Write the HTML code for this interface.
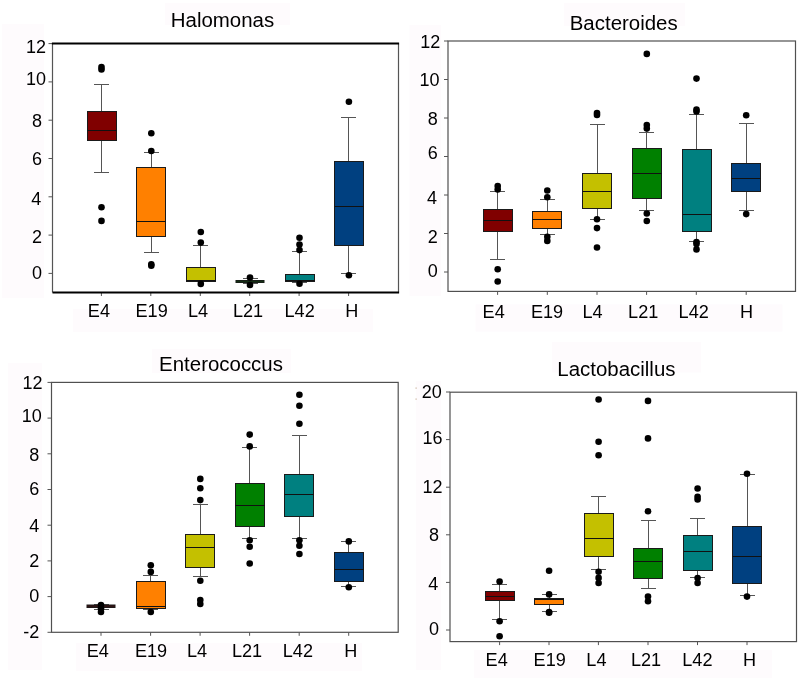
<!DOCTYPE html>
<html><head><meta charset="utf-8"><style>
html,body{margin:0;padding:0;background:#fff;}
body{width:800px;height:678px;overflow:hidden;}
svg{display:block;font-family:"Liberation Sans",sans-serif;will-change:transform;}
</style></head><body>
<svg width="800" height="678" viewBox="0 0 800 678" fill="#000">
<rect x="2" y="24" width="42" height="274" fill="#fefbfd"/>
<rect x="165" y="3" width="125" height="22" fill="#fefbfd"/>
<rect x="73" y="309" width="300" height="23" fill="#fefbfd"/>
<rect x="409.5" y="25" width="31.5" height="271" fill="#fefbfd"/>
<rect x="564" y="3" width="121" height="23" fill="#fefbfd"/>
<rect x="475.6" y="304.4" width="306.9" height="27.200000000000045" fill="#fefbfd"/>
<rect x="8" y="363" width="34" height="307" fill="#fefbfd"/>
<rect x="152" y="349" width="139" height="24" fill="#fefbfd"/>
<rect x="76" y="643" width="286" height="28" fill="#fefbfd"/>
<rect x="416" y="381" width="25" height="289" fill="#fefbfd"/>
<rect x="552" y="342" width="149" height="30.5" fill="#fefbfd"/>
<rect x="474" y="650" width="298" height="28" fill="#fefbfd"/>
<rect x="415.5" y="387.5" width="1.2" height="1.2" fill="#c9b39c"/>
<rect x="415.5" y="398.5" width="1.2" height="1.2" fill="#c9b39c"/>
<line x1="52.5" y1="43.5" x2="52.5" y2="292.5" stroke="#555555" stroke-width="1.2"/>
<line x1="398.5" y1="43.5" x2="398.5" y2="292.5" stroke="#555555" stroke-width="1.2"/>
<text transform="translate(222.50,27.20) scale(1.022,1)" text-anchor="middle" font-size="20">Halomonas</text>
<line x1="48.5" y1="273.40" x2="52.5" y2="273.40" stroke="#555555" stroke-width="1"/>
<text x="42.01" y="278.98" text-anchor="end" font-size="18">0</text>
<line x1="48.5" y1="235.10" x2="52.5" y2="235.10" stroke="#555555" stroke-width="1"/>
<text x="42.01" y="243.44" text-anchor="end" font-size="18">2</text>
<line x1="48.5" y1="196.80" x2="52.5" y2="196.80" stroke="#555555" stroke-width="1"/>
<text x="41.31" y="205.37" text-anchor="end" font-size="18">4</text>
<line x1="48.5" y1="158.50" x2="52.5" y2="158.50" stroke="#555555" stroke-width="1"/>
<text x="42.01" y="165.29" text-anchor="end" font-size="18">6</text>
<line x1="48.5" y1="120.20" x2="52.5" y2="120.20" stroke="#555555" stroke-width="1"/>
<text x="42.01" y="127.21" text-anchor="end" font-size="18">8</text>
<line x1="48.5" y1="81.90" x2="52.5" y2="81.90" stroke="#555555" stroke-width="1"/>
<text x="46.01" y="85.06" text-anchor="end" font-size="18">10</text>
<line x1="48.5" y1="43.60" x2="52.5" y2="43.60" stroke="#555555" stroke-width="1"/>
<text x="46.01" y="52.75" text-anchor="end" font-size="18">12</text>
<line x1="101.4" y1="292.5" x2="101.4" y2="296.0" stroke="#555555" stroke-width="1"/>
<text transform="translate(98.90,317.00) scale(1.035,1)" text-anchor="middle" font-size="17.5">E4</text>
<line x1="150.8" y1="292.5" x2="150.8" y2="296.0" stroke="#555555" stroke-width="1"/>
<text transform="translate(151.60,317.00) scale(1.035,1)" text-anchor="middle" font-size="17.5">E19</text>
<line x1="200.3" y1="292.5" x2="200.3" y2="296.0" stroke="#555555" stroke-width="1"/>
<text transform="translate(198.00,317.00) scale(1.035,1)" text-anchor="middle" font-size="17.5">L4</text>
<line x1="249.7" y1="292.5" x2="249.7" y2="296.0" stroke="#555555" stroke-width="1"/>
<text transform="translate(248.00,317.00) scale(1.035,1)" text-anchor="middle" font-size="17.5">L21</text>
<line x1="299.1" y1="292.5" x2="299.1" y2="296.0" stroke="#555555" stroke-width="1"/>
<text transform="translate(299.60,317.00) scale(1.035,1)" text-anchor="middle" font-size="17.5">L42</text>
<line x1="348.6" y1="292.5" x2="348.6" y2="296.0" stroke="#555555" stroke-width="1"/>
<text transform="translate(351.90,317.00) scale(1.035,1)" text-anchor="middle" font-size="17.5">H</text>
<line x1="101.5" y1="84.5" x2="101.5" y2="111.5" stroke="#555555" stroke-width="1"/>
<line x1="101.5" y1="140.5" x2="101.5" y2="172.5" stroke="#555555" stroke-width="1"/>
<line x1="94.0" y1="84.5" x2="109.0" y2="84.5" stroke="#555555" stroke-width="1"/>
<line x1="94.0" y1="172.5" x2="109.0" y2="172.5" stroke="#555555" stroke-width="1"/>
<rect x="87.5" y="111.5" width="29.0" height="29.0" fill="#800000" stroke="#1a1a1a" stroke-width="1"/>
<line x1="87.5" y1="130.5" x2="116.5" y2="130.5" stroke="#111" stroke-width="1"/>
<circle cx="101.5" cy="67" r="3.3" fill="#000"/>
<circle cx="101.5" cy="69.5" r="3.3" fill="#000"/>
<circle cx="101.5" cy="207.3" r="3.3" fill="#000"/>
<circle cx="101.5" cy="220.9" r="3.3" fill="#000"/>
<line x1="151.5" y1="152.5" x2="151.5" y2="167.5" stroke="#555555" stroke-width="1"/>
<line x1="151.5" y1="236.5" x2="151.5" y2="252.5" stroke="#555555" stroke-width="1"/>
<line x1="144.0" y1="152.5" x2="159.0" y2="152.5" stroke="#555555" stroke-width="1"/>
<line x1="144.0" y1="252.5" x2="159.0" y2="252.5" stroke="#555555" stroke-width="1"/>
<rect x="136.5" y="167.5" width="29.0" height="69.0" fill="#ff8000" stroke="#1a1a1a" stroke-width="1"/>
<line x1="136.5" y1="221.5" x2="165.5" y2="221.5" stroke="#111" stroke-width="1"/>
<circle cx="151.3" cy="133.2" r="3.3" fill="#000"/>
<circle cx="151.3" cy="151" r="3.3" fill="#000"/>
<circle cx="151.3" cy="264.2" r="3.3" fill="#000"/>
<circle cx="151.3" cy="265.8" r="3.3" fill="#000"/>
<line x1="200.5" y1="245.5" x2="200.5" y2="267.5" stroke="#555555" stroke-width="1"/>
<line x1="200.5" y1="281.5" x2="200.5" y2="281.5" stroke="#555555" stroke-width="1"/>
<line x1="193.0" y1="245.5" x2="208.0" y2="245.5" stroke="#555555" stroke-width="1"/>
<line x1="193.0" y1="281.5" x2="208.0" y2="281.5" stroke="#555555" stroke-width="1"/>
<rect x="186.5" y="267.5" width="29.0" height="14.0" fill="#c4c000" stroke="#1a1a1a" stroke-width="1"/>
<line x1="186.5" y1="280.5" x2="215.5" y2="280.5" stroke="#111" stroke-width="1"/>
<circle cx="200.8" cy="232" r="3.3" fill="#000"/>
<circle cx="200.8" cy="242.6" r="3.3" fill="#000"/>
<circle cx="200.8" cy="283.9" r="3.3" fill="#000"/>
<line x1="250.5" y1="278.5" x2="250.5" y2="280.5" stroke="#555555" stroke-width="1"/>
<line x1="250.5" y1="282.5" x2="250.5" y2="283.5" stroke="#555555" stroke-width="1"/>
<line x1="243.0" y1="278.5" x2="258.0" y2="278.5" stroke="#555555" stroke-width="1"/>
<line x1="243.0" y1="283.5" x2="258.0" y2="283.5" stroke="#555555" stroke-width="1"/>
<rect x="235.5" y="280.00" width="29.0" height="3.00" fill="#1a1a1a"/>
<rect x="236.0" y="280.70" width="28.0" height="1.60" fill="#008000" opacity="0.2"/>
<circle cx="250.0" cy="277.5" r="3.3" fill="#000"/>
<circle cx="250.0" cy="285" r="3.3" fill="#000"/>
<line x1="299.5" y1="251.5" x2="299.5" y2="274.5" stroke="#555555" stroke-width="1"/>
<line x1="299.5" y1="281.5" x2="299.5" y2="282.5" stroke="#555555" stroke-width="1"/>
<line x1="292.0" y1="251.5" x2="307.0" y2="251.5" stroke="#555555" stroke-width="1"/>
<line x1="292.0" y1="282.5" x2="307.0" y2="282.5" stroke="#555555" stroke-width="1"/>
<rect x="285.5" y="274.5" width="29.0" height="7.0" fill="#008080" stroke="#1a1a1a" stroke-width="1"/>
<line x1="285.5" y1="280.5" x2="314.5" y2="280.5" stroke="#111" stroke-width="1"/>
<circle cx="299.5" cy="237.7" r="3.3" fill="#000"/>
<circle cx="299.5" cy="244.6" r="3.3" fill="#000"/>
<circle cx="299.5" cy="250.1" r="3.3" fill="#000"/>
<circle cx="299.5" cy="283.8" r="3.3" fill="#000"/>
<line x1="348.5" y1="117.5" x2="348.5" y2="161.5" stroke="#555555" stroke-width="1"/>
<line x1="348.5" y1="245.5" x2="348.5" y2="273.5" stroke="#555555" stroke-width="1"/>
<line x1="341.0" y1="117.5" x2="356.0" y2="117.5" stroke="#555555" stroke-width="1"/>
<line x1="341.0" y1="273.5" x2="356.0" y2="273.5" stroke="#555555" stroke-width="1"/>
<rect x="334.5" y="161.5" width="29.0" height="84.0" fill="#004080" stroke="#1a1a1a" stroke-width="1"/>
<line x1="334.5" y1="206.5" x2="363.5" y2="206.5" stroke="#111" stroke-width="1"/>
<circle cx="348.9" cy="101.8" r="3.3" fill="#000"/>
<circle cx="348.9" cy="275.2" r="3.3" fill="#000"/>
<line x1="51.9" y1="43.5" x2="399.1" y2="43.5" stroke="#000" stroke-width="2"/>
<line x1="52.5" y1="292.5" x2="399.1" y2="292.5" stroke="#000" stroke-width="2"/>
<rect x="448" y="41" width="347.5" height="250.39999999999998" fill="none" stroke="#505050" stroke-width="1.2"/>
<text transform="translate(623.70,30.40) scale(1.022,1)" text-anchor="middle" font-size="20">Bacteroides</text>
<line x1="444" y1="272.00" x2="448" y2="272.00" stroke="#555555" stroke-width="1"/>
<text x="437.70" y="277.21" text-anchor="end" font-size="18">0</text>
<line x1="444" y1="233.50" x2="448" y2="233.50" stroke="#555555" stroke-width="1"/>
<text x="437.70" y="242.83" text-anchor="end" font-size="18">2</text>
<line x1="444" y1="195.00" x2="448" y2="195.00" stroke="#555555" stroke-width="1"/>
<text x="437.00" y="203.52" text-anchor="end" font-size="18">4</text>
<line x1="444" y1="156.50" x2="448" y2="156.50" stroke="#555555" stroke-width="1"/>
<text x="437.70" y="159.44" text-anchor="end" font-size="18">6</text>
<line x1="444" y1="118.00" x2="448" y2="118.00" stroke="#555555" stroke-width="1"/>
<text x="437.70" y="124.83" text-anchor="end" font-size="18">8</text>
<line x1="444" y1="79.50" x2="448" y2="79.50" stroke="#555555" stroke-width="1"/>
<text x="439.62" y="85.75" text-anchor="end" font-size="18">10</text>
<line x1="444" y1="41.00" x2="448" y2="41.00" stroke="#555555" stroke-width="1"/>
<text x="440.32" y="48.29" text-anchor="end" font-size="18">12</text>
<line x1="497.6" y1="291.4" x2="497.6" y2="294.9" stroke="#555555" stroke-width="1"/>
<text transform="translate(493.70,318.00) scale(1.035,1)" text-anchor="middle" font-size="17.5">E4</text>
<line x1="547.3" y1="291.4" x2="547.3" y2="294.9" stroke="#555555" stroke-width="1"/>
<text transform="translate(547.00,318.00) scale(1.035,1)" text-anchor="middle" font-size="17.5">E19</text>
<line x1="597.0" y1="291.4" x2="597.0" y2="294.9" stroke="#555555" stroke-width="1"/>
<text transform="translate(592.60,318.00) scale(1.035,1)" text-anchor="middle" font-size="17.5">L4</text>
<line x1="646.6" y1="291.4" x2="646.6" y2="294.9" stroke="#555555" stroke-width="1"/>
<text transform="translate(643.20,318.00) scale(1.035,1)" text-anchor="middle" font-size="17.5">L21</text>
<line x1="696.3" y1="291.4" x2="696.3" y2="294.9" stroke="#555555" stroke-width="1"/>
<text transform="translate(693.70,318.00) scale(1.035,1)" text-anchor="middle" font-size="17.5">L42</text>
<line x1="746.2" y1="291.4" x2="746.2" y2="294.9" stroke="#555555" stroke-width="1"/>
<text transform="translate(746.50,318.00) scale(1.035,1)" text-anchor="middle" font-size="17.5">H</text>
<line x1="497.5" y1="191.5" x2="497.5" y2="209.5" stroke="#555555" stroke-width="1"/>
<line x1="497.5" y1="231.5" x2="497.5" y2="259.5" stroke="#555555" stroke-width="1"/>
<line x1="490.0" y1="191.5" x2="505.0" y2="191.5" stroke="#555555" stroke-width="1"/>
<line x1="490.0" y1="259.5" x2="505.0" y2="259.5" stroke="#555555" stroke-width="1"/>
<rect x="483.5" y="209.5" width="29.0" height="22.0" fill="#800000" stroke="#1a1a1a" stroke-width="1"/>
<line x1="483.5" y1="220.5" x2="512.5" y2="220.5" stroke="#111" stroke-width="1"/>
<circle cx="497.7" cy="186" r="3.3" fill="#000"/>
<circle cx="497.7" cy="189.5" r="3.3" fill="#000"/>
<circle cx="497.7" cy="269.3" r="3.3" fill="#000"/>
<circle cx="497.7" cy="281.5" r="3.3" fill="#000"/>
<line x1="547.5" y1="199.5" x2="547.5" y2="211.5" stroke="#555555" stroke-width="1"/>
<line x1="547.5" y1="228.5" x2="547.5" y2="234.5" stroke="#555555" stroke-width="1"/>
<line x1="540.0" y1="199.5" x2="555.0" y2="199.5" stroke="#555555" stroke-width="1"/>
<line x1="540.0" y1="234.5" x2="555.0" y2="234.5" stroke="#555555" stroke-width="1"/>
<rect x="532.5" y="211.5" width="29.0" height="17.0" fill="#ff8000" stroke="#1a1a1a" stroke-width="1"/>
<line x1="532.5" y1="219.5" x2="561.5" y2="219.5" stroke="#111" stroke-width="1"/>
<circle cx="547.3" cy="190.5" r="3.3" fill="#000"/>
<circle cx="547.3" cy="197.2" r="3.3" fill="#000"/>
<circle cx="547.3" cy="236.7" r="3.3" fill="#000"/>
<circle cx="547.3" cy="240.9" r="3.3" fill="#000"/>
<line x1="597.5" y1="124.5" x2="597.5" y2="173.5" stroke="#555555" stroke-width="1"/>
<line x1="597.5" y1="208.5" x2="597.5" y2="219.5" stroke="#555555" stroke-width="1"/>
<line x1="590.0" y1="124.5" x2="605.0" y2="124.5" stroke="#555555" stroke-width="1"/>
<line x1="590.0" y1="219.5" x2="605.0" y2="219.5" stroke="#555555" stroke-width="1"/>
<rect x="582.5" y="173.5" width="29.0" height="35.0" fill="#c4c000" stroke="#1a1a1a" stroke-width="1"/>
<line x1="582.5" y1="191.5" x2="611.5" y2="191.5" stroke="#111" stroke-width="1"/>
<circle cx="597.0" cy="113" r="3.3" fill="#000"/>
<circle cx="597.0" cy="115" r="3.3" fill="#000"/>
<circle cx="597.0" cy="219.2" r="3.3" fill="#000"/>
<circle cx="597.0" cy="228.1" r="3.3" fill="#000"/>
<circle cx="597.0" cy="247.5" r="3.3" fill="#000"/>
<line x1="646.5" y1="132.5" x2="646.5" y2="148.5" stroke="#555555" stroke-width="1"/>
<line x1="646.5" y1="198.5" x2="646.5" y2="210.5" stroke="#555555" stroke-width="1"/>
<line x1="639.0" y1="132.5" x2="654.0" y2="132.5" stroke="#555555" stroke-width="1"/>
<line x1="639.0" y1="210.5" x2="654.0" y2="210.5" stroke="#555555" stroke-width="1"/>
<rect x="632.5" y="148.5" width="29.0" height="50.0" fill="#008000" stroke="#1a1a1a" stroke-width="1"/>
<line x1="632.5" y1="173.5" x2="661.5" y2="173.5" stroke="#111" stroke-width="1"/>
<circle cx="646.8" cy="53.9" r="3.3" fill="#000"/>
<circle cx="646.8" cy="125" r="3.3" fill="#000"/>
<circle cx="646.8" cy="128.6" r="3.3" fill="#000"/>
<circle cx="646.8" cy="213.5" r="3.3" fill="#000"/>
<circle cx="646.8" cy="221" r="3.3" fill="#000"/>
<line x1="696.5" y1="114.5" x2="696.5" y2="149.5" stroke="#555555" stroke-width="1"/>
<line x1="696.5" y1="231.5" x2="696.5" y2="241.5" stroke="#555555" stroke-width="1"/>
<line x1="689.0" y1="114.5" x2="704.0" y2="114.5" stroke="#555555" stroke-width="1"/>
<line x1="689.0" y1="241.5" x2="704.0" y2="241.5" stroke="#555555" stroke-width="1"/>
<rect x="682.5" y="149.5" width="29.0" height="82.0" fill="#008080" stroke="#1a1a1a" stroke-width="1"/>
<line x1="682.5" y1="214.5" x2="711.5" y2="214.5" stroke="#111" stroke-width="1"/>
<circle cx="696.5" cy="78.6" r="3.3" fill="#000"/>
<circle cx="696.5" cy="109.5" r="3.3" fill="#000"/>
<circle cx="696.5" cy="111.5" r="3.3" fill="#000"/>
<circle cx="696.5" cy="242" r="3.3" fill="#000"/>
<circle cx="696.5" cy="244" r="3.3" fill="#000"/>
<circle cx="696.5" cy="249.4" r="3.3" fill="#000"/>
<line x1="746.5" y1="123.5" x2="746.5" y2="163.5" stroke="#555555" stroke-width="1"/>
<line x1="746.5" y1="191.5" x2="746.5" y2="210.5" stroke="#555555" stroke-width="1"/>
<line x1="739.0" y1="123.5" x2="754.0" y2="123.5" stroke="#555555" stroke-width="1"/>
<line x1="739.0" y1="210.5" x2="754.0" y2="210.5" stroke="#555555" stroke-width="1"/>
<rect x="731.5" y="163.5" width="29.0" height="28.0" fill="#004080" stroke="#1a1a1a" stroke-width="1"/>
<line x1="731.5" y1="178.5" x2="760.5" y2="178.5" stroke="#111" stroke-width="1"/>
<circle cx="746.2" cy="115.2" r="3.3" fill="#000"/>
<circle cx="746.2" cy="214.1" r="3.3" fill="#000"/>
<rect x="51.5" y="382.4" width="346.7" height="249.89999999999998" fill="none" stroke="#505050" stroke-width="1.2"/>
<text transform="translate(221.00,370.60) scale(1.022,1)" text-anchor="middle" font-size="20">Enterococcus</text>
<line x1="47.5" y1="632.30" x2="51.5" y2="632.30" stroke="#555555" stroke-width="1"/>
<text x="39.21" y="637.98" text-anchor="end" font-size="18">-2</text>
<line x1="47.5" y1="596.60" x2="51.5" y2="596.60" stroke="#555555" stroke-width="1"/>
<text x="39.39" y="602.44" text-anchor="end" font-size="18">0</text>
<line x1="47.5" y1="560.90" x2="51.5" y2="560.90" stroke="#555555" stroke-width="1"/>
<text x="39.39" y="567.21" text-anchor="end" font-size="18">2</text>
<line x1="47.5" y1="525.20" x2="51.5" y2="525.20" stroke="#555555" stroke-width="1"/>
<text x="39.39" y="532.06" text-anchor="end" font-size="18">4</text>
<line x1="47.5" y1="489.50" x2="51.5" y2="489.50" stroke="#555555" stroke-width="1"/>
<text x="39.39" y="494.98" text-anchor="end" font-size="18">6</text>
<line x1="47.5" y1="453.80" x2="51.5" y2="453.80" stroke="#555555" stroke-width="1"/>
<text x="39.39" y="460.98" text-anchor="end" font-size="18">8</text>
<line x1="47.5" y1="418.10" x2="51.5" y2="418.10" stroke="#555555" stroke-width="1"/>
<text x="41.85" y="421.99" text-anchor="end" font-size="18">10</text>
<line x1="47.5" y1="382.40" x2="51.5" y2="382.40" stroke="#555555" stroke-width="1"/>
<text x="42.55" y="389.29" text-anchor="end" font-size="18">12</text>
<line x1="101.0" y1="632.3" x2="101.0" y2="635.8" stroke="#555555" stroke-width="1"/>
<text transform="translate(97.80,656.60) scale(1.035,1)" text-anchor="middle" font-size="17.5">E4</text>
<line x1="150.6" y1="632.3" x2="150.6" y2="635.8" stroke="#555555" stroke-width="1"/>
<text transform="translate(151.00,656.60) scale(1.035,1)" text-anchor="middle" font-size="17.5">E19</text>
<line x1="200.1" y1="632.3" x2="200.1" y2="635.8" stroke="#555555" stroke-width="1"/>
<text transform="translate(197.00,656.60) scale(1.035,1)" text-anchor="middle" font-size="17.5">L4</text>
<line x1="249.6" y1="632.3" x2="249.6" y2="635.8" stroke="#555555" stroke-width="1"/>
<text transform="translate(247.00,656.60) scale(1.035,1)" text-anchor="middle" font-size="17.5">L21</text>
<line x1="299.2" y1="632.3" x2="299.2" y2="635.8" stroke="#555555" stroke-width="1"/>
<text transform="translate(297.90,656.60) scale(1.035,1)" text-anchor="middle" font-size="17.5">L42</text>
<line x1="348.7" y1="632.3" x2="348.7" y2="635.8" stroke="#555555" stroke-width="1"/>
<text transform="translate(350.90,656.60) scale(1.035,1)" text-anchor="middle" font-size="17.5">H</text>
<line x1="101.5" y1="604.5" x2="101.5" y2="605.5" stroke="#555555" stroke-width="1"/>
<line x1="101.5" y1="607.5" x2="101.5" y2="609.5" stroke="#555555" stroke-width="1"/>
<line x1="94.0" y1="604.5" x2="109.0" y2="604.5" stroke="#555555" stroke-width="1"/>
<line x1="94.0" y1="609.5" x2="109.0" y2="609.5" stroke="#555555" stroke-width="1"/>
<rect x="86.5" y="604.50" width="29.0" height="3.50" fill="#1a1a1a"/>
<rect x="87.0" y="605.20" width="28.0" height="2.10" fill="#800000" opacity="0.2"/>
<circle cx="101.0" cy="605" r="3.3" fill="#000"/>
<circle cx="101.0" cy="608.5" r="3.3" fill="#000"/>
<circle cx="101.0" cy="612" r="3.3" fill="#000"/>
<line x1="150.5" y1="575.5" x2="150.5" y2="581.5" stroke="#555555" stroke-width="1"/>
<line x1="150.5" y1="608.5" x2="150.5" y2="609.5" stroke="#555555" stroke-width="1"/>
<line x1="143.0" y1="575.5" x2="158.0" y2="575.5" stroke="#555555" stroke-width="1"/>
<line x1="143.0" y1="609.5" x2="158.0" y2="609.5" stroke="#555555" stroke-width="1"/>
<rect x="136.5" y="581.5" width="29.0" height="27.0" fill="#ff8000" stroke="#1a1a1a" stroke-width="1"/>
<line x1="136.5" y1="606.5" x2="165.5" y2="606.5" stroke="#111" stroke-width="1"/>
<circle cx="150.8" cy="565.25" r="3.3" fill="#000"/>
<circle cx="150.8" cy="571.9" r="3.3" fill="#000"/>
<circle cx="150.8" cy="612" r="3.3" fill="#000"/>
<line x1="200.5" y1="504.5" x2="200.5" y2="534.5" stroke="#555555" stroke-width="1"/>
<line x1="200.5" y1="567.5" x2="200.5" y2="576.5" stroke="#555555" stroke-width="1"/>
<line x1="193.0" y1="504.5" x2="208.0" y2="504.5" stroke="#555555" stroke-width="1"/>
<line x1="193.0" y1="576.5" x2="208.0" y2="576.5" stroke="#555555" stroke-width="1"/>
<rect x="185.5" y="534.5" width="29.0" height="33.0" fill="#c4c000" stroke="#1a1a1a" stroke-width="1"/>
<line x1="185.5" y1="547.5" x2="214.5" y2="547.5" stroke="#111" stroke-width="1"/>
<circle cx="200.3" cy="478.9" r="3.3" fill="#000"/>
<circle cx="200.3" cy="488.3" r="3.3" fill="#000"/>
<circle cx="200.3" cy="500.1" r="3.3" fill="#000"/>
<circle cx="200.3" cy="580.8" r="3.3" fill="#000"/>
<circle cx="200.3" cy="600" r="3.3" fill="#000"/>
<circle cx="200.3" cy="604" r="3.3" fill="#000"/>
<line x1="249.5" y1="447.5" x2="249.5" y2="483.5" stroke="#555555" stroke-width="1"/>
<line x1="249.5" y1="526.5" x2="249.5" y2="538.5" stroke="#555555" stroke-width="1"/>
<line x1="242.0" y1="447.5" x2="257.0" y2="447.5" stroke="#555555" stroke-width="1"/>
<line x1="242.0" y1="538.5" x2="257.0" y2="538.5" stroke="#555555" stroke-width="1"/>
<rect x="235.5" y="483.5" width="29.0" height="43.0" fill="#008000" stroke="#1a1a1a" stroke-width="1"/>
<line x1="235.5" y1="505.5" x2="264.5" y2="505.5" stroke="#111" stroke-width="1"/>
<circle cx="249.7" cy="434.6" r="3.3" fill="#000"/>
<circle cx="249.7" cy="446.4" r="3.3" fill="#000"/>
<circle cx="249.7" cy="540.3" r="3.3" fill="#000"/>
<circle cx="249.7" cy="546.7" r="3.3" fill="#000"/>
<circle cx="249.7" cy="563.5" r="3.3" fill="#000"/>
<line x1="299.5" y1="435.5" x2="299.5" y2="474.5" stroke="#555555" stroke-width="1"/>
<line x1="299.5" y1="516.5" x2="299.5" y2="538.5" stroke="#555555" stroke-width="1"/>
<line x1="292.0" y1="435.5" x2="307.0" y2="435.5" stroke="#555555" stroke-width="1"/>
<line x1="292.0" y1="538.5" x2="307.0" y2="538.5" stroke="#555555" stroke-width="1"/>
<rect x="284.5" y="474.5" width="29.0" height="42.0" fill="#008080" stroke="#1a1a1a" stroke-width="1"/>
<line x1="284.5" y1="494.5" x2="313.5" y2="494.5" stroke="#111" stroke-width="1"/>
<circle cx="299.4" cy="394.75" r="3.3" fill="#000"/>
<circle cx="299.4" cy="405.8" r="3.3" fill="#000"/>
<circle cx="299.4" cy="423.8" r="3.3" fill="#000"/>
<circle cx="299.4" cy="540.2" r="3.3" fill="#000"/>
<circle cx="299.4" cy="545.8" r="3.3" fill="#000"/>
<circle cx="299.4" cy="554" r="3.3" fill="#000"/>
<line x1="348.5" y1="541.5" x2="348.5" y2="552.5" stroke="#555555" stroke-width="1"/>
<line x1="348.5" y1="581.5" x2="348.5" y2="586.5" stroke="#555555" stroke-width="1"/>
<line x1="341.0" y1="541.5" x2="356.0" y2="541.5" stroke="#555555" stroke-width="1"/>
<line x1="341.0" y1="586.5" x2="356.0" y2="586.5" stroke="#555555" stroke-width="1"/>
<rect x="334.5" y="552.5" width="29.0" height="29.0" fill="#004080" stroke="#1a1a1a" stroke-width="1"/>
<line x1="334.5" y1="569.5" x2="363.5" y2="569.5" stroke="#111" stroke-width="1"/>
<circle cx="348.8" cy="541.4" r="3.3" fill="#000"/>
<circle cx="348.8" cy="587.3" r="3.3" fill="#000"/>
<rect x="450" y="392.2" width="346.5" height="249.40000000000003" fill="none" stroke="#505050" stroke-width="1.2"/>
<text transform="translate(616.40,376.40) scale(1.022,1)" text-anchor="middle" font-size="20">Lactobacillus</text>
<line x1="446" y1="630.00" x2="450" y2="630.00" stroke="#555555" stroke-width="1"/>
<text x="439.01" y="635.21" text-anchor="end" font-size="18">0</text>
<line x1="446" y1="582.40" x2="450" y2="582.40" stroke="#555555" stroke-width="1"/>
<text x="438.31" y="589.75" text-anchor="end" font-size="18">4</text>
<line x1="446" y1="534.80" x2="450" y2="534.80" stroke="#555555" stroke-width="1"/>
<text x="439.01" y="540.83" text-anchor="end" font-size="18">8</text>
<line x1="446" y1="487.20" x2="450" y2="487.20" stroke="#555555" stroke-width="1"/>
<text x="442.55" y="493.29" text-anchor="end" font-size="18">12</text>
<line x1="446" y1="439.60" x2="450" y2="439.60" stroke="#555555" stroke-width="1"/>
<text x="442.55" y="443.75" text-anchor="end" font-size="18">16</text>
<line x1="446" y1="392.00" x2="450" y2="392.00" stroke="#555555" stroke-width="1"/>
<text x="441.85" y="398.21" text-anchor="end" font-size="18">20</text>
<line x1="499.6" y1="641.6" x2="499.6" y2="645.1" stroke="#555555" stroke-width="1"/>
<text transform="translate(496.70,665.60) scale(1.035,1)" text-anchor="middle" font-size="17.5">E4</text>
<line x1="549.0" y1="641.6" x2="549.0" y2="645.1" stroke="#555555" stroke-width="1"/>
<text transform="translate(549.70,665.60) scale(1.035,1)" text-anchor="middle" font-size="17.5">E19</text>
<line x1="598.4" y1="641.6" x2="598.4" y2="645.1" stroke="#555555" stroke-width="1"/>
<text transform="translate(596.40,665.60) scale(1.035,1)" text-anchor="middle" font-size="17.5">L4</text>
<line x1="648.0" y1="641.6" x2="648.0" y2="645.1" stroke="#555555" stroke-width="1"/>
<text transform="translate(646.00,665.60) scale(1.035,1)" text-anchor="middle" font-size="17.5">L21</text>
<line x1="697.5" y1="641.6" x2="697.5" y2="645.1" stroke="#555555" stroke-width="1"/>
<text transform="translate(697.40,665.60) scale(1.035,1)" text-anchor="middle" font-size="17.5">L42</text>
<line x1="747.0" y1="641.6" x2="747.0" y2="645.1" stroke="#555555" stroke-width="1"/>
<text transform="translate(749.60,665.60) scale(1.035,1)" text-anchor="middle" font-size="17.5">H</text>
<line x1="499.5" y1="584.5" x2="499.5" y2="591.5" stroke="#555555" stroke-width="1"/>
<line x1="499.5" y1="600.5" x2="499.5" y2="619.5" stroke="#555555" stroke-width="1"/>
<line x1="492.0" y1="584.5" x2="507.0" y2="584.5" stroke="#555555" stroke-width="1"/>
<line x1="492.0" y1="619.5" x2="507.0" y2="619.5" stroke="#555555" stroke-width="1"/>
<rect x="485.5" y="591.5" width="29.0" height="9.0" fill="#800000" stroke="#1a1a1a" stroke-width="1"/>
<line x1="485.5" y1="596.5" x2="514.5" y2="596.5" stroke="#111" stroke-width="1"/>
<circle cx="499.6" cy="581.6" r="3.3" fill="#000"/>
<circle cx="499.6" cy="621.2" r="3.3" fill="#000"/>
<circle cx="499.6" cy="636.3" r="3.3" fill="#000"/>
<line x1="549.5" y1="594.5" x2="549.5" y2="598.5" stroke="#555555" stroke-width="1"/>
<line x1="549.5" y1="604.5" x2="549.5" y2="611.5" stroke="#555555" stroke-width="1"/>
<line x1="542.0" y1="594.5" x2="557.0" y2="594.5" stroke="#555555" stroke-width="1"/>
<line x1="542.0" y1="611.5" x2="557.0" y2="611.5" stroke="#555555" stroke-width="1"/>
<rect x="534.5" y="598.5" width="29.0" height="6.0" fill="#ff8000" stroke="#1a1a1a" stroke-width="1"/>
<line x1="534.5" y1="599.5" x2="563.5" y2="599.5" stroke="#111" stroke-width="1"/>
<circle cx="549.1" cy="570.7" r="3.3" fill="#000"/>
<circle cx="549.1" cy="594.4" r="3.3" fill="#000"/>
<circle cx="549.1" cy="612" r="3.3" fill="#000"/>
<circle cx="549.1" cy="612.8" r="3.3" fill="#000"/>
<line x1="598.5" y1="496.5" x2="598.5" y2="513.5" stroke="#555555" stroke-width="1"/>
<line x1="598.5" y1="556.5" x2="598.5" y2="569.5" stroke="#555555" stroke-width="1"/>
<line x1="591.0" y1="496.5" x2="606.0" y2="496.5" stroke="#555555" stroke-width="1"/>
<line x1="591.0" y1="569.5" x2="606.0" y2="569.5" stroke="#555555" stroke-width="1"/>
<rect x="584.5" y="513.5" width="29.0" height="43.0" fill="#c4c000" stroke="#1a1a1a" stroke-width="1"/>
<line x1="584.5" y1="538.5" x2="613.5" y2="538.5" stroke="#111" stroke-width="1"/>
<circle cx="598.6" cy="399.5" r="3.3" fill="#000"/>
<circle cx="598.6" cy="441.7" r="3.3" fill="#000"/>
<circle cx="598.6" cy="455.3" r="3.3" fill="#000"/>
<circle cx="598.6" cy="571.7" r="3.3" fill="#000"/>
<circle cx="598.6" cy="577.9" r="3.3" fill="#000"/>
<circle cx="598.6" cy="583" r="3.3" fill="#000"/>
<line x1="648.5" y1="520.5" x2="648.5" y2="548.5" stroke="#555555" stroke-width="1"/>
<line x1="648.5" y1="578.5" x2="648.5" y2="588.5" stroke="#555555" stroke-width="1"/>
<line x1="641.0" y1="520.5" x2="656.0" y2="520.5" stroke="#555555" stroke-width="1"/>
<line x1="641.0" y1="588.5" x2="656.0" y2="588.5" stroke="#555555" stroke-width="1"/>
<rect x="633.5" y="548.5" width="29.0" height="30.0" fill="#008000" stroke="#1a1a1a" stroke-width="1"/>
<line x1="633.5" y1="561.5" x2="662.5" y2="561.5" stroke="#111" stroke-width="1"/>
<circle cx="648.0" cy="400.9" r="3.3" fill="#000"/>
<circle cx="648.0" cy="438.4" r="3.3" fill="#000"/>
<circle cx="648.0" cy="511.2" r="3.3" fill="#000"/>
<circle cx="648.0" cy="596.5" r="3.3" fill="#000"/>
<circle cx="648.0" cy="601.2" r="3.3" fill="#000"/>
<line x1="697.5" y1="518.5" x2="697.5" y2="535.5" stroke="#555555" stroke-width="1"/>
<line x1="697.5" y1="570.5" x2="697.5" y2="577.5" stroke="#555555" stroke-width="1"/>
<line x1="690.0" y1="518.5" x2="705.0" y2="518.5" stroke="#555555" stroke-width="1"/>
<line x1="690.0" y1="577.5" x2="705.0" y2="577.5" stroke="#555555" stroke-width="1"/>
<rect x="683.5" y="535.5" width="29.0" height="35.0" fill="#008080" stroke="#1a1a1a" stroke-width="1"/>
<line x1="683.5" y1="551.5" x2="712.5" y2="551.5" stroke="#111" stroke-width="1"/>
<circle cx="697.6" cy="488.5" r="3.3" fill="#000"/>
<circle cx="697.6" cy="496.8" r="3.3" fill="#000"/>
<circle cx="697.6" cy="499.5" r="3.3" fill="#000"/>
<circle cx="697.6" cy="578" r="3.3" fill="#000"/>
<circle cx="697.6" cy="583" r="3.3" fill="#000"/>
<line x1="747.5" y1="474.5" x2="747.5" y2="526.5" stroke="#555555" stroke-width="1"/>
<line x1="747.5" y1="583.5" x2="747.5" y2="595.5" stroke="#555555" stroke-width="1"/>
<line x1="740.0" y1="474.5" x2="755.0" y2="474.5" stroke="#555555" stroke-width="1"/>
<line x1="740.0" y1="595.5" x2="755.0" y2="595.5" stroke="#555555" stroke-width="1"/>
<rect x="732.5" y="526.5" width="29.0" height="57.0" fill="#004080" stroke="#1a1a1a" stroke-width="1"/>
<line x1="732.5" y1="556.5" x2="761.5" y2="556.5" stroke="#111" stroke-width="1"/>
<circle cx="747.0" cy="473.7" r="3.3" fill="#000"/>
<circle cx="747.0" cy="596.6" r="3.3" fill="#000"/>
</svg>
</body></html>
